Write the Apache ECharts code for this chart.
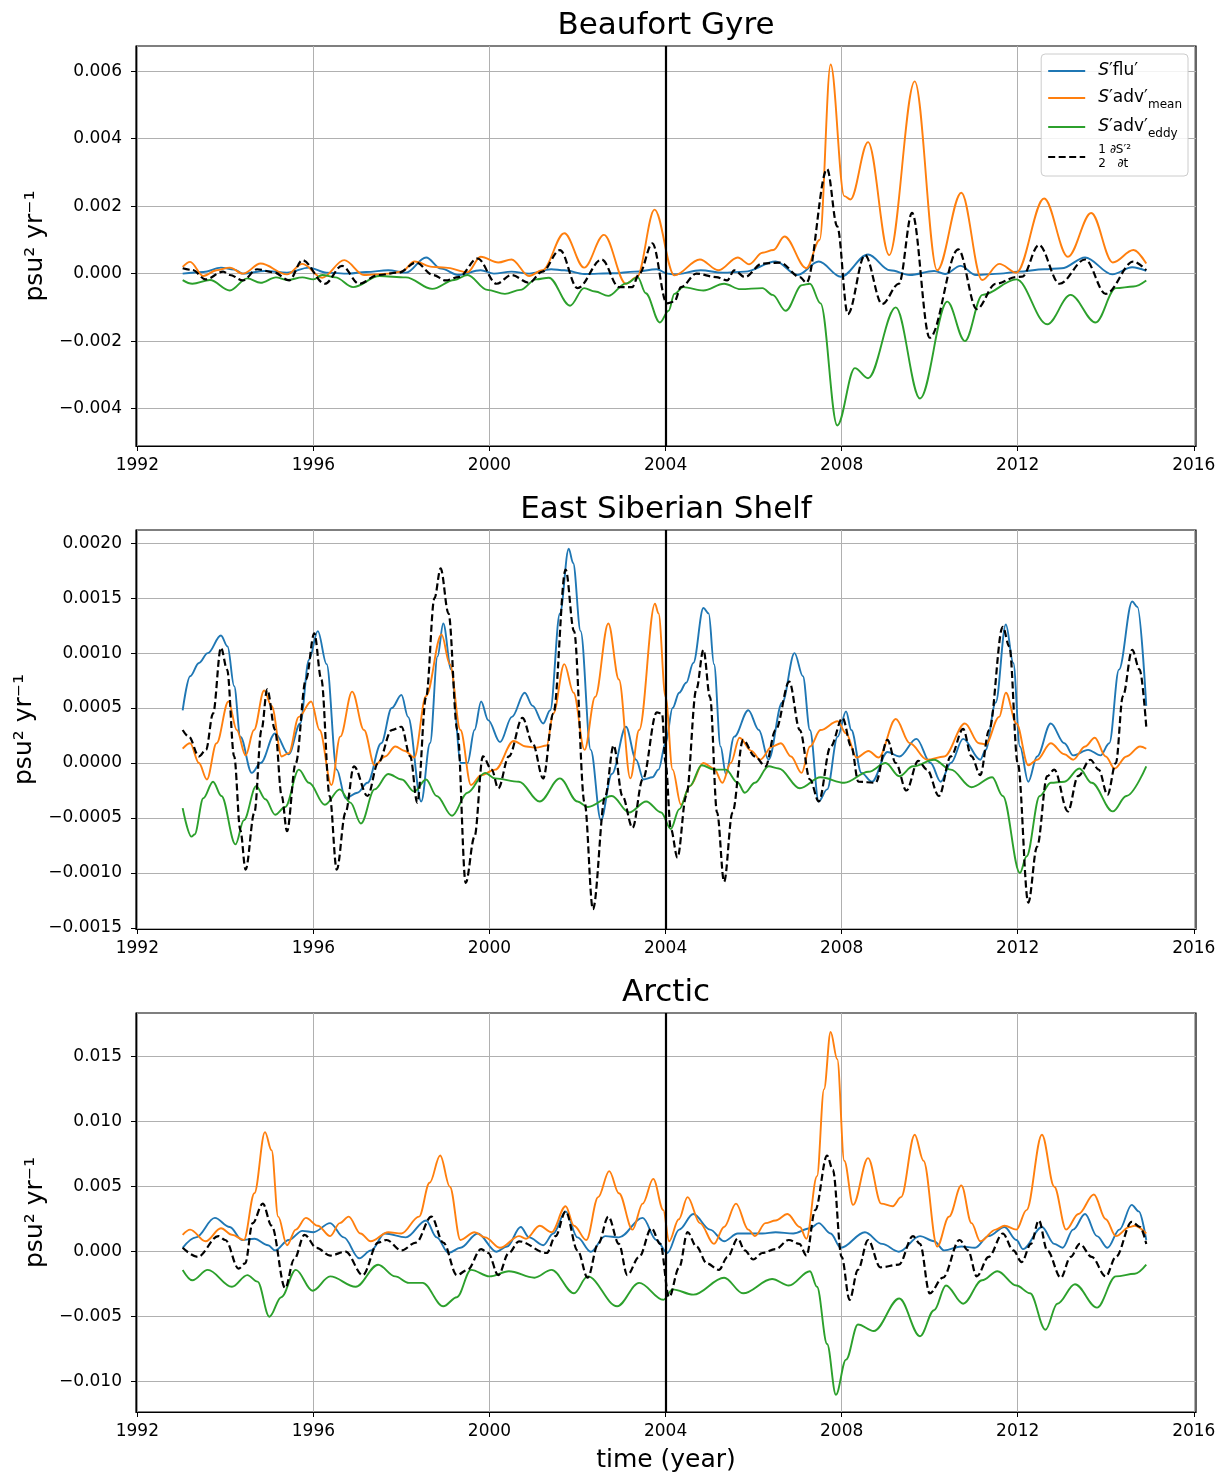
<!DOCTYPE html>
<html><head><meta charset="utf-8">
<script src="https://cdn.jsdelivr.net/npm/echarts@6/dist/echarts.min.js"></script>
<style>html,body{margin:0;padding:0;background:#fff}#c{width:1223px;height:1474px}</style>
</head><body><div id="c"></div><script>
// ---------------- data (time in years, values in psu^2 yr^-1) ----------------
const xTicks = [1992, 1996, 2000, 2004, 2008, 2012, 2016];
const yTicksBG = [-0.004, -0.002, 0, 0.002, 0.004, 0.006];
const yTicksESS = [-0.0015, -0.0010, -0.0005, 0, 0.0005, 0.0010, 0.0015, 0.0020];
const yTicksAR = [-0.010, -0.005, 0, 0.005, 0.010, 0.015];
const titles = ['Beaufort Gyre', 'East Siberian Shelf', 'Arctic'];
const eventYear = 2004;

// Beaufort Gyre
const bgFlu = [[1993.03,0.0000],[1993.5,0.00005],[1993.9,0.00018],[1994.2,0.00012],[1994.4,0.0000],[1994.9,0.00008],[1995.4,0.00003],[1995.9,0.00018],[1996.3,0.00003],[1996.8,0.0000],[1997.2,0.00005],[1997.7,0.0001],[1998.1,0.00003],[1998.56,0.00048],[1998.9,0.00015],[1999.3,-0.00004],[1999.8,0.0001],[2000.1,0.0000],[2000.5,0.00006],[2000.9,0.0],[2001.4,0.00013],[2001.7,0.0001],[2002.15,-0.00001],[2002.8,0.00001],[2003.3,0.00006],[2003.8,0.00013],[2004.05,0.0],[2004.2,-0.00002],[2004.8,0.0001],[2005.3,0.00003],[2005.8,0.00006],[2006.5,0.00036],[2007.0,-0.00004],[2007.48,0.00036],[2007.98,-0.00009],[2008.6,0.00057],[2009.1,0.0001],[2009.55,-0.00004],[2010.1,0.00008],[2010.35,-0.00001],[2010.7,0.00023],[2011.05,-0.00004],[2011.6,0.0],[2012.0,0.00006],[2012.6,0.00013],[2013.0,0.00016],[2013.53,0.00048],[2014.15,-0.00002],[2014.6,0.00019],[2014.92,0.00008]];
const bgMean = [[1993.03,0.0002],[1993.2,0.00035],[1993.5,-0.00007],[1993.8,0.0001],[1994.1,0.00018],[1994.4,0.0],[1994.8,0.0003],[1995.4,-0.00002],[1995.75,0.00029],[1996.2,-0.00012],[1996.7,0.0004],[1997.15,-0.00004],[1997.7,0.0],[1998.0,0.00006],[1998.3,0.00036],[1998.7,0.0002],[1999.0,0.00018],[1999.5,0.00004],[1999.8,0.0005],[2000.2,0.00033],[2000.5,0.00042],[2000.9,-0.00007],[2001.2,0.0001],[2001.7,0.0012],[2002.15,0.00018],[2002.6,0.00115],[2003.1,-0.0003],[2003.35,-0.0001],[2003.75,0.0019],[2004.2,-0.00005],[2004.78,0.00042],[2005.2,0.0001],[2005.64,0.00048],[2005.9,0.00028],[2006.2,0.00062],[2006.45,0.0007],[2006.7,0.0011],[2007.2,0.00016],[2007.5,0.001],[2007.75,0.0062],[2008.06,0.0023],[2008.2,0.0022],[2008.6,0.0039],[2009.08,0.00055],[2009.66,0.0057],[2010.17,0.0001],[2010.72,0.0024],[2011.19,-0.00019],[2011.58,0.00029],[2011.97,0.00003],[2012.6,0.00223],[2013.14,0.0005],[2013.67,0.0018],[2014.16,0.00033],[2014.63,0.0007],[2014.92,0.0003]];
const bgEddy = [[1993.03,-0.00019],[1993.25,-0.0003],[1993.65,-0.00019],[1994.1,-0.0005],[1994.5,-0.00014],[1994.8,-0.00027],[1995.15,-0.00011],[1995.4,-0.00019],[1995.75,-0.00011],[1996.0,-0.00017],[1996.2,-0.00004],[1996.5,-0.00011],[1996.9,-0.0004],[1997.5,-0.00007],[1998.1,-0.00011],[1998.7,-0.00045],[1999.2,-0.00019],[1999.5,-0.00004],[1999.95,-0.00048],[2000.35,-0.0006],[2000.7,-0.00048],[2001.06,-0.00017],[2001.35,-0.00012],[2001.83,-0.00095],[2002.15,-0.00043],[2002.4,-0.00053],[2002.7,-0.00066],[2003.1,-0.00029],[2003.37,-0.00011],[2003.55,-0.00058],[2003.87,-0.00145],[2004.07,-0.0011],[2004.2,-0.0006],[2004.4,-0.0004],[2004.86,-0.0005],[2005.33,-0.0003],[2005.7,-0.00046],[2006.2,-0.00043],[2006.43,-0.00063],[2006.73,-0.0011],[2007.1,-0.00034],[2007.28,-0.0003],[2007.52,-0.00088],[2007.9,-0.0045],[2008.3,-0.0028],[2008.6,-0.0031],[2009.23,-0.001],[2009.78,-0.0037],[2010.4,-0.00083],[2010.8,-0.002],[2011.2,-0.00063],[2011.97,-0.00017],[2012.67,-0.0015],[2013.2,-0.00063],[2013.77,-0.00145],[2014.23,-0.00043],[2014.63,-0.00038],[2014.92,-0.0002]];
const bgDt = [[1993.03,0.00016],[1993.25,0.00011],[1993.55,-0.00017],[1993.95,0.00006],[1994.1,-0.00004],[1994.4,-0.0002],[1994.72,0.00013],[1995.1,0.00004],[1995.45,-0.0002],[1995.75,0.0004],[1996.26,-0.0003],[1996.65,0.00023],[1997.04,-0.0003],[1997.47,-0.00004],[1997.94,0.00003],[1998.33,0.00033],[1998.72,-0.00004],[1999.0,-0.0002],[1999.3,-0.0001],[1999.73,0.00045],[2000.16,-0.0003],[2000.5,-0.00004],[2000.9,-0.00027],[2001.2,0.00006],[2001.6,0.0007],[2002.0,-0.00043],[2002.55,0.00042],[2002.94,-0.0004],[2003.24,-0.0004],[2003.4,-0.00001],[2003.7,0.0009],[2004.03,-0.00088],[2004.2,-0.00083],[2004.35,-0.0004],[2004.7,0.0],[2005.15,-0.0001],[2005.4,-0.0002],[2005.56,0.0001],[2005.8,-0.0001],[2006.2,0.0003],[2006.6,0.00033],[2007.05,-0.0001],[2007.2,-0.00027],[2007.67,0.0031],[2007.9,0.0014],[2008.14,-0.0012],[2008.53,0.00055],[2008.92,-0.0009],[2009.3,-0.0003],[2009.6,0.0018],[2010.0,-0.0019],[2010.65,0.00072],[2011.07,-0.00105],[2011.5,-0.0003],[2011.97,-0.0001],[2012.1,-0.00009],[2012.48,0.00085],[2012.95,-0.0003],[2013.53,0.00042],[2014.0,-0.0006],[2014.63,0.00036],[2014.92,0.0001]];

// East Siberian Shelf
const essFlu = [[1993.03,0.00048],[1993.2,0.00079],[1993.4,0.00091],[1993.6,0.001],[1993.9,0.00116],[1994.05,0.00106],[1994.2,0.0007],[1994.34,0.00024],[1994.6,-0.00009],[1994.8,0.0],[1995.13,0.00027],[1995.44,0.00008],[1995.7,0.00036],[1995.9,0.00094],[1996.1,0.0012],[1996.3,0.0009],[1996.53,-0.00006],[1996.73,-0.00032],[1997.0,-0.00027],[1997.23,-0.00018],[1997.54,0.00018],[1997.78,0.0005],[1998.0,0.00062],[1998.15,0.00042],[1998.45,-0.00035],[1998.65,0.00018],[1998.82,0.00097],[1998.95,0.00127],[1999.13,0.00085],[1999.35,0.0],[1999.5,0.0],[1999.66,0.0003],[1999.81,0.00056],[1999.97,0.00039],[2000.24,0.00019],[2000.51,0.00042],[2000.8,0.00064],[2000.98,0.00052],[2001.22,0.00036],[2001.38,0.00048],[2001.6,0.00136],[2001.8,0.00195],[2001.9,0.00182],[2002.07,0.0012],[2002.3,0.00012],[2002.53,-0.00052],[2002.78,-0.0001],[2003.1,0.00033],[2003.33,0.00003],[2003.5,-0.00015],[2003.7,-0.00013],[2003.84,-0.00006],[2004.0,0.00018],[2004.16,0.0005],[2004.31,0.00064],[2004.47,0.00073],[2004.63,0.00091],[2004.86,0.00141],[2004.98,0.00136],[2005.1,0.0009],[2005.25,0.00015],[2005.37,-0.0001],[2005.56,0.00024],[2005.88,0.00048],[2006.12,0.0003],[2006.34,0.00003],[2006.65,0.00055],[2006.93,0.001],[2007.12,0.00079],[2007.28,0.0003],[2007.48,-0.00035],[2007.67,-0.00024],[2007.91,0.00024],[2008.1,0.00047],[2008.22,0.0003],[2008.45,-0.00009],[2008.69,-0.00017],[2009.04,0.0001],[2009.31,0.00006],[2009.7,0.00022],[2010.02,0.0],[2010.25,-0.00017],[2010.48,0.0],[2010.76,0.00022],[2011.15,0.00003],[2011.27,0.00012],[2011.5,0.00055],[2011.73,0.00126],[2011.9,0.00091],[2012.05,0.00015],[2012.24,-0.00017],[2012.44,0.00006],[2012.75,0.00036],[2013.06,0.00018],[2013.26,0.00007],[2013.6,0.00012],[2013.88,0.00007],[2014.08,0.00018],[2014.3,0.00085],[2014.6,0.00147],[2014.72,0.00142],[2014.92,0.00052]];
const essMean = [[1993.03,0.00013],[1993.2,0.00018],[1993.4,0.0],[1993.58,-0.00015],[1993.8,0.00018],[1994.07,0.00056],[1994.26,0.0003],[1994.46,0.00007],[1994.65,0.0003],[1994.88,0.00066],[1995.05,0.00052],[1995.28,0.00006],[1995.44,0.00009],[1995.67,0.00042],[1995.95,0.00056],[1996.14,0.0003],[1996.41,-0.0002],[1996.61,0.00024],[1996.88,0.00065],[1997.15,0.0003],[1997.39,-0.00002],[1997.63,0.00006],[1997.86,0.00015],[1998.08,0.00011],[1998.29,0.00005],[1998.56,0.00061],[1998.91,0.00117],[1999.1,0.0009],[1999.34,0.0003],[1999.58,-0.0002],[1999.81,-0.00011],[2000.13,-0.00006],[2000.55,0.0002],[2000.83,0.00015],[2001.06,0.00014],[2001.3,0.00016],[2001.45,0.00045],[2001.7,0.0009],[2001.91,0.00064],[2002.16,0.00012],[2002.4,0.0006],[2002.7,0.00127],[2002.94,0.00076],[2003.2,-0.00014],[2003.4,0.0003],[2003.76,0.00145],[2003.84,0.00136],[2004.0,0.0006],[2004.16,-0.00006],[2004.35,-0.00038],[2004.55,-0.00021],[2004.86,0.0],[2005.1,-0.00005],[2005.29,-0.00018],[2005.48,0.0],[2005.68,0.00023],[2005.95,0.00011],[2006.15,0.00003],[2006.42,0.00015],[2006.62,0.00018],[2006.85,0.00006],[2007.09,-0.00009],[2007.28,0.00015],[2007.52,0.0003],[2007.91,0.00038],[2008.1,0.00027],[2008.34,0.00005],[2008.61,0.00011],[2008.84,0.00005],[2009.23,0.0004],[2009.55,0.00018],[2009.94,0.00003],[2010.33,0.00006],[2010.8,0.00036],[2011.12,0.00018],[2011.27,0.00017],[2011.58,0.00042],[2011.73,0.00064],[2011.97,0.00036],[2012.24,-0.00002],[2012.44,0.00003],[2012.75,0.00018],[2013.06,0.00008],[2013.26,0.00003],[2013.53,0.00015],[2013.75,0.00023],[2014.0,0.00006],[2014.2,-0.00005],[2014.47,0.00006],[2014.78,0.00015],[2014.92,0.00013]];
const essEddy = [[1993.03,-0.00041],[1993.23,-0.00067],[1993.3,-0.00065],[1993.5,-0.00032],[1993.72,-0.00017],[1993.91,-0.0003],[1994.23,-0.00074],[1994.42,-0.00052],[1994.7,-0.00021],[1994.91,-0.00033],[1995.13,-0.00047],[1995.36,-0.0004],[1995.67,-0.00006],[1995.9,-0.00018],[1996.26,-0.00038],[1996.6,-0.00024],[1996.84,-0.00036],[1997.08,-0.00055],[1997.39,-0.00024],[1997.7,-0.0001],[1998.01,-0.00015],[1998.29,-0.00026],[1998.56,-0.00015],[1998.8,-0.0003],[1999.15,-0.00048],[1999.5,-0.00027],[1999.9,-0.00009],[2000.13,-0.00014],[2000.67,-0.00017],[2001.14,-0.00035],[2001.6,-0.00014],[2002.0,-0.00035],[2002.23,-0.0004],[2002.78,-0.0003],[2003.17,-0.00045],[2003.56,-0.00035],[2003.9,-0.00045],[2004.12,-0.0006],[2004.31,-0.00042],[2004.55,-0.00021],[2004.82,-0.00002],[2005.1,-0.00006],[2005.37,-0.00006],[2005.64,-0.00018],[2005.8,-0.00027],[2006.03,-0.00018],[2006.34,-0.00003],[2006.57,-0.00005],[2007.05,-0.00023],[2007.52,-0.00013],[2008.06,-0.00018],[2008.61,-0.00008],[2009.0,0.0],[2009.31,-0.00012],[2009.62,-0.00003],[2010.1,0.00003],[2010.48,-0.00006],[2010.95,-0.00022],[2011.42,-0.00013],[2011.66,-0.0003],[2012.05,-0.001],[2012.2,-0.00085],[2012.5,-0.0003],[2012.75,-0.00018],[2013.06,-0.00017],[2013.4,-0.00005],[2013.68,-0.00018],[2014.16,-0.00044],[2014.47,-0.0003],[2014.92,-0.00003]];
const essDt = [[1993.03,0.0003],[1993.17,0.00024],[1993.4,0.00006],[1993.56,0.00012],[1993.72,0.00045],[1993.9,0.00105],[1994.04,0.00085],[1994.2,0.00006],[1994.34,-0.00061],[1994.46,-0.00097],[1994.66,-0.00045],[1994.82,0.0003],[1994.95,0.00067],[1995.13,0.0003],[1995.28,-0.0003],[1995.4,-0.00062],[1995.6,0.0],[1995.83,0.00076],[1996.02,0.00118],[1996.18,0.00076],[1996.37,-0.0003],[1996.53,-0.00097],[1996.73,-0.00045],[1996.92,-0.00003],[1997.23,-0.0003],[1997.47,0.0],[1997.78,0.0003],[1998.0,0.00033],[1998.2,0.00006],[1998.36,-0.00036],[1998.56,0.0006],[1998.75,0.0015],[1998.89,0.00177],[1999.07,0.00136],[1999.27,0.0003],[1999.46,-0.00109],[1999.66,-0.00067],[1999.85,0.00006],[2000.05,-0.00006],[2000.2,-0.00023],[2000.44,0.00006],[2000.75,0.00041],[2000.98,0.00018],[2001.22,-0.00014],[2001.45,0.00045],[2001.73,0.00176],[2001.92,0.0012],[2002.16,-0.00036],[2002.35,-0.00133],[2002.63,-0.0003],[2002.82,0.00016],[2003.02,-0.0003],[2003.25,-0.00059],[2003.48,-0.00015],[2003.8,0.00046],[2003.92,0.00045],[2004.0,0.0],[2004.12,-0.0006],[2004.27,-0.00086],[2004.47,-0.0003],[2004.7,0.00067],[2004.86,0.00103],[2005.01,0.0006],[2005.17,-0.00045],[2005.33,-0.00108],[2005.52,-0.00045],[2005.76,0.00021],[2006.03,0.00006],[2006.27,-0.00003],[2006.5,0.0003],[2006.81,0.00074],[2007.05,0.0003],[2007.28,-0.00015],[2007.48,-0.00035],[2007.75,0.00015],[2008.02,0.00041],[2008.22,0.00015],[2008.38,-0.00017],[2008.77,-0.00018],[2009.04,0.00021],[2009.23,0.0],[2009.47,-0.00025],[2009.74,0.00002],[2009.94,-0.00006],[2010.21,-0.0003],[2010.48,0.00006],[2010.76,0.00031],[2010.95,0.00006],[2011.15,-0.00011],[2011.35,0.0003],[2011.66,0.00124],[2011.81,0.00106],[2012.0,0.0],[2012.24,-0.00127],[2012.44,-0.00076],[2012.67,-0.00012],[2012.83,-0.00006],[2013.14,-0.00044],[2013.37,-0.00012],[2013.65,0.00003],[2013.84,-0.00006],[2014.04,-0.00029],[2014.23,0.0],[2014.39,0.00061],[2014.6,0.00103],[2014.77,0.00085],[2014.92,0.00033]];

// Arctic
const arFlu = [[1993.03,0.0003],[1993.33,0.0011],[1993.76,0.0026],[1994.1,0.0019],[1994.38,0.0009],[1994.66,0.001],[1994.97,0.0005],[1995.13,0.0001],[1995.44,0.0009],[1995.75,0.0016],[1996.0,0.0015],[1996.38,0.0022],[1996.69,0.0011],[1997.04,-0.0005],[1997.31,0.0001],[1997.62,0.0014],[1998.1,0.0011],[1998.56,0.0024],[1998.8,0.0011],[1999.07,-0.0001],[1999.34,0.0003],[1999.73,0.0014],[2000.16,0.0],[2000.4,0.0004],[2000.71,0.0019],[2000.9,0.0011],[2001.22,0.0005],[2001.45,0.0014],[2001.73,0.0031],[2002.0,0.0011],[2002.3,0.0],[2002.63,0.0012],[2002.94,0.0011],[2003.48,0.0026],[2003.79,0.0009],[2004.04,-0.0001],[2004.31,0.0017],[2004.63,0.0029],[2005.01,0.0017],[2005.33,0.0008],[2005.64,0.0014],[2006.2,0.0014],[2006.5,0.0015],[2006.9,0.0014],[2007.28,0.0018],[2007.48,0.0022],[2007.75,0.0014],[2007.98,0.0003],[2008.53,0.0015],[2008.92,0.0006],[2009.3,0.0],[2009.78,0.0012],[2010.1,0.0008],[2010.33,0.0001],[2010.72,0.0004],[2011.03,0.0003],[2011.34,0.0012],[2011.7,0.0019],[2011.97,0.0009],[2012.12,0.0002],[2012.55,0.0019],[2012.83,0.0006],[2013.02,0.0003],[2013.26,0.0017],[2013.53,0.0029],[2013.8,0.0012],[2014.04,0.0003],[2014.31,0.0017],[2014.59,0.0036],[2014.75,0.0031],[2014.92,0.0009]];
const arMean = [[1993.03,0.0013],[1993.2,0.0017],[1993.55,0.0008],[1993.9,0.0018],[1994.15,0.0013],[1994.42,0.0009],[1994.66,0.0045],[1994.9,0.0092],[1995.05,0.0078],[1995.2,0.0027],[1995.4,0.0005],[1995.6,0.0017],[1995.83,0.0026],[1996.1,0.002],[1996.38,0.0012],[1996.6,0.0022],[1996.8,0.0027],[1997.07,0.0014],[1997.3,0.0008],[1997.7,0.0015],[1998.0,0.0014],[1998.4,0.0027],[1998.64,0.0053],[1998.88,0.0074],[1999.1,0.005],[1999.34,0.0009],[1999.66,0.0015],[1999.9,0.0011],[2000.24,0.0003],[2000.67,0.0012],[2000.83,0.001],[2001.14,0.002],[2001.41,0.0015],[2001.73,0.0035],[2001.92,0.002],[2002.2,0.0009],[2002.47,0.0042],[2002.72,0.0062],[2002.94,0.0045],[2003.25,0.0017],[2003.48,0.0037],[2003.72,0.0056],[2003.95,0.0032],[2004.08,0.0008],[2004.3,0.0025],[2004.5,0.0042],[2004.78,0.0022],[2005.1,0.0006],[2005.33,0.0019],[2005.6,0.0037],[2005.88,0.0017],[2006.03,0.0012],[2006.27,0.0022],[2006.5,0.0024],[2006.77,0.0029],[2007.05,0.0019],[2007.2,0.001],[2007.44,0.0058],[2007.6,0.0125],[2007.75,0.0169],[2007.9,0.0148],[2008.06,0.007],[2008.26,0.0036],[2008.6,0.0072],[2008.9,0.0037],[2009.16,0.0035],[2009.35,0.0042],[2009.66,0.009],[2009.86,0.007],[2010.17,0.0004],[2010.44,0.0027],[2010.72,0.0051],[2010.95,0.0022],[2011.15,0.0008],[2011.5,0.0017],[2011.7,0.002],[2011.97,0.0017],[2012.2,0.0032],[2012.55,0.009],[2012.83,0.005],[2013.1,0.0017],[2013.38,0.0029],[2013.73,0.0044],[2014.0,0.0025],[2014.23,0.0012],[2014.54,0.0019],[2014.66,0.002],[2014.92,0.0014]];
const arEddy = [[1993.03,-0.0014],[1993.25,-0.0022],[1993.6,-0.0014],[1994.15,-0.0027],[1994.5,-0.0018],[1994.73,-0.0023],[1995.0,-0.005],[1995.27,-0.0035],[1995.6,-0.0014],[1995.98,-0.003],[1996.38,-0.0019],[1996.96,-0.0027],[1997.47,-0.001],[1997.86,-0.0019],[1998.17,-0.0024],[1998.48,-0.0024],[1998.95,-0.0042],[1999.26,-0.0035],[1999.58,-0.0014],[2000.0,-0.0019],[2000.44,-0.0015],[2001.02,-0.002],[2001.41,-0.0014],[2001.92,-0.0032],[2002.23,-0.0019],[2002.9,-0.0042],[2003.4,-0.0024],[2003.95,-0.0037],[2004.16,-0.0029],[2004.63,-0.0033],[2005.33,-0.002],[2005.76,-0.0032],[2006.42,-0.0021],[2006.8,-0.0026],[2007.28,-0.0015],[2007.44,-0.0027],[2007.67,-0.0071],[2007.87,-0.011],[2008.1,-0.0083],[2008.37,-0.0056],[2008.73,-0.0061],[2009.31,-0.0036],[2009.78,-0.0065],[2010.1,-0.0045],[2010.37,-0.0026],[2010.76,-0.004],[2011.19,-0.0022],[2011.54,-0.0015],[2011.97,-0.0026],[2012.28,-0.0032],[2012.63,-0.006],[2012.9,-0.004],[2013.3,-0.0025],[2013.8,-0.0043],[2014.23,-0.0019],[2014.66,-0.0017],[2014.92,-0.001]];
const arDt = [[1993.03,0.0003],[1993.37,-0.0004],[1993.84,0.0012],[1994.0,0.0009],[1994.3,-0.0013],[1994.45,-0.0009],[1994.62,0.0022],[1994.85,0.0037],[1995.05,0.002],[1995.36,-0.0028],[1995.56,-0.0006],[1995.8,0.0013],[1996.07,0.0003],[1996.38,-0.0003],[1996.73,0.0],[1997.12,-0.0018],[1997.47,0.0007],[1997.66,0.0009],[1998.0,0.0001],[1998.33,0.0007],[1998.68,0.0027],[1998.95,0.0007],[1999.26,-0.0018],[1999.5,-0.0014],[1999.81,0.0002],[1999.97,-0.0001],[2000.2,-0.0018],[2000.44,-0.0001],[2000.67,0.0008],[2001.3,-0.0001],[2001.5,0.0012],[2001.73,0.0031],[2002.0,0.0001],[2002.23,-0.002],[2002.47,0.0006],[2002.7,0.0027],[2002.94,0.0006],[2003.13,-0.0018],[2003.4,-0.0004],[2003.68,0.0018],[2003.88,0.0006],[2004.08,-0.0035],[2004.31,-0.0012],[2004.5,0.0015],[2004.7,0.0004],[2004.94,-0.0009],[2005.21,-0.0014],[2005.41,-0.0004],[2005.64,0.001],[2005.8,0.0001],[2005.99,-0.0006],[2006.2,-0.0001],[2006.5,0.0002],[2006.8,0.0009],[2007.04,0.0006],[2007.2,-0.0003],[2007.4,0.0032],[2007.67,0.0074],[2007.8,0.0063],[2008.0,-0.0004],[2008.18,-0.0037],[2008.37,-0.0014],[2008.6,0.0009],[2008.88,-0.0012],[2009.3,-0.001],[2009.62,0.0012],[2009.78,0.0006],[2010.0,-0.0032],[2010.3,-0.002],[2010.68,0.0009],[2010.87,0.0001],[2011.07,-0.0019],[2011.34,-0.0004],[2011.66,0.0014],[2011.9,0.0001],[2012.09,-0.0008],[2012.3,0.0006],[2012.48,0.0024],[2012.67,0.0001],[2012.98,-0.002],[2013.2,-0.0004],[2013.41,0.0006],[2013.68,-0.0004],[2014.0,-0.0019],[2014.23,-0.0004],[2014.59,0.0023],[2014.78,0.0019],[2014.92,0.0006]];

// ---------------- chart ----------------
const FONT = 'DejaVu Sans';
const COLORS = {flu: '#1f77b4', mean: '#ff7f0e', eddy: '#2ca02c', dt: '#000000'};
const panels = [
  {top: 46, height: 400, min: -0.00511, max: 0.00675, ticks: yTicksBG, dec: 3, data: [bgFlu, bgMean, bgEddy, bgDt], titleTop: 10},
  {top: 530, height: 399, min: -0.00151, max: 0.00212, ticks: yTicksESS, dec: 4, data: [essFlu, essMean, essEddy, essDt], titleTop: 494},
  {top: 1013, height: 399, min: -0.01233, max: 0.01836, ticks: yTicksAR, dec: 3, data: [arFlu, arMean, arEddy, arDt], titleTop: 977}
];
const names = ['flu', 'mean', 'eddy', 'dt'];
const GL = 136, GW = 1060;

const grid = [], xAxis = [], yAxis = [], series = [], title = [];
panels.forEach((p, i) => {
  grid.push({left: GL, top: p.top, width: GW, height: p.height, show: true, borderColor: '#000', borderWidth: 1.2, backgroundColor: 'transparent'});
  title.push({text: titles[i], left: GL + GW / 2, top: p.titleTop, textAlign: 'center', padding: 0,
    textStyle: {fontFamily: FONT, fontSize: 31, fontWeight: 'normal', color: '#000'}});
  xAxis.push({
    type: 'value', gridIndex: i, min: 1991.97, max: 2016.05,
    name: i === 2 ? 'time (year)' : '', nameLocation: 'middle', nameGap: 36,
    nameTextStyle: {fontFamily: FONT, fontSize: 25, color: '#000'},
    axisLine: {show: true, onZero: false, lineStyle: {color: '#000', width: 1.2}},
    axisTick: {show: true, length: 5, customValues: xTicks, lineStyle: {color: '#000', width: 1}},
    axisLabel: {show: true, customValues: xTicks, margin: 11, fontFamily: FONT, fontSize: 17, color: '#000',
      formatter: v => String(Math.round(v))},
    splitLine: {show: true, lineStyle: {color: '#b0b0b0', width: 1}}
  });
  yAxis.push({
    type: 'value', gridIndex: i, min: p.min, max: p.max,
    name: 'psu\u00b2 yr\u207b\u00b9', nameLocation: 'middle', nameGap: 84, nameRotate: 90,
    nameTextStyle: {fontFamily: FONT, fontSize: 25, color: '#000'},
    axisLine: {show: true, onZero: false, lineStyle: {color: '#000', width: 1.2}},
    axisTick: {show: true, length: 5, customValues: p.ticks, lineStyle: {color: '#000', width: 1}},
    axisLabel: {show: true, customValues: p.ticks, margin: 14, fontFamily: FONT, fontSize: 17, color: '#000',
      formatter: v => (v < -1e-12 ? '\u2212' : '') + Math.abs(v).toFixed(p.dec)},
    splitLine: {show: true, lineStyle: {color: '#b0b0b0', width: 1}}
  });
  p.data.forEach((d, k) => {
    const s = {
      name: names[k], type: 'line', xAxisIndex: i, yAxisIndex: i, data: d,
      showSymbol: false, symbol: 'none', smooth: 0.35, smoothMonotone: 'x', animation: false,
      lineStyle: {color: COLORS[names[k]], width: k === 3 ? 2.2 : 1.9, type: k === 3 ? [7, 3.5] : 'solid'},
      itemStyle: {color: COLORS[names[k]]},
      z: 2 + k
    };
    if (k === 3) {
      s.markLine = {silent: true, symbol: ['none', 'none'], animation: false, label: {show: false},
        lineStyle: {color: '#000', width: 2.2, type: 'solid'}, data: [{xAxis: eventYear}]};
    }
    series.push(s);
  });
});

const legendText = {
  flu: '{it|S}\u2032flu\u2032',
  mean: '{it|S}\u2032adv\u2032{sub|mean}',
  eddy: '{it|S}\u2032adv\u2032{sub|eddy}',
  dt: '{fr|1 \u2202S\u2032\u00b2}\n{fr|2   \u2202t}'
};

const chart = echarts.init(document.getElementById('c'), null, {renderer: 'canvas'});
chart.setOption({
  animation: false,
  backgroundColor: '#fff',
  title: title,
  grid: grid, xAxis: xAxis, yAxis: yAxis, series: series,
  legend: {
    data: names, orient: 'vertical', right: 35, top: 54,
    backgroundColor: 'rgba(255,255,255,0.85)', borderColor: '#cccccc', borderWidth: 1, borderRadius: 4,
    padding: [6, 6, 5, 6], itemWidth: 37, itemHeight: 12, itemGap: 3,
    itemStyle: {opacity: 0, borderWidth: 0},
    formatter: n => legendText[n],
    textStyle: {fontFamily: FONT, fontSize: 17, color: '#000', lineHeight: 22, padding: [0, 0, 0, 8],
      rich: {
        it: {fontFamily: FONT, fontStyle: 'italic', fontSize: 17, color: '#000', lineHeight: 22},
        sub: {fontFamily: FONT, fontSize: 12, color: '#000', verticalAlign: 'bottom', lineHeight: 26},
        fr: {fontFamily: FONT, fontSize: 12, color: '#000', lineHeight: 14}
      }
    }
  }
});
</script></body></html>
